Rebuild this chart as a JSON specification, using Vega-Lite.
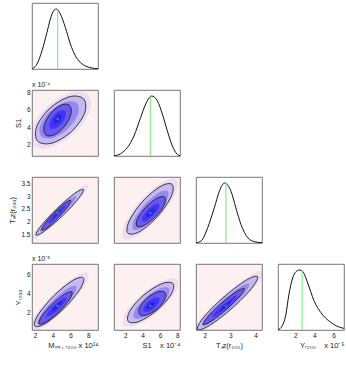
{
"$schema":"https://vega.github.io/schema/vega-lite/v6.json",
"padding":{"left":8,"top":2,"right":2,"bottom":2},
"background":"white",
"columns":4,
"spacing":{"row":21,"column":16},
"bounds":"flush",
"datasets":{
"ell":[
{"p":"A","l":1,"o":0,"x":8.00,"y":7.75},{"p":"A","l":1,"o":1,"x":8.11,"y":5.75},{"p":"A","l":1,"o":2,"x":6.32,"y":3.22},{"p":"A","l":1,"o":3,"x":3.69,"y":1.65},{"p":"A","l":1,"o":4,"x":1.76,"y":1.95},{"p":"A","l":1,"o":5,"x":1.65,"y":3.95},{"p":"A","l":1,"o":6,"x":3.44,"y":6.48},{"p":"A","l":1,"o":7,"x":6.07,"y":8.05},
{"p":"A","l":2,"o":0,"x":7.48,"y":7.27},{"p":"A","l":2,"o":1,"x":7.57,"y":5.60},{"p":"A","l":2,"o":2,"x":6.08,"y":3.49},{"p":"A","l":2,"o":3,"x":3.89,"y":2.18},{"p":"A","l":2,"o":4,"x":2.28,"y":2.43},{"p":"A","l":2,"o":5,"x":2.19,"y":4.10},{"p":"A","l":2,"o":6,"x":3.68,"y":6.21},{"p":"A","l":2,"o":7,"x":5.87,"y":7.52},
{"p":"A","l":3,"o":0,"x":6.74,"y":6.74},{"p":"A","l":3,"o":1,"x":6.81,"y":5.44},{"p":"A","l":3,"o":2,"x":5.65,"y":3.79},{"p":"A","l":3,"o":3,"x":3.94,"y":2.77},{"p":"A","l":3,"o":4,"x":2.68,"y":2.96},{"p":"A","l":3,"o":5,"x":2.61,"y":4.26},{"p":"A","l":3,"o":6,"x":3.77,"y":5.91},{"p":"A","l":3,"o":7,"x":5.48,"y":6.93},
{"p":"A","l":4,"o":0,"x":5.84,"y":6.57},{"p":"A","l":4,"o":1,"x":6.06,"y":5.59},{"p":"A","l":4,"o":2,"x":5.38,"y":4.17},{"p":"A","l":4,"o":3,"x":4.20,"y":3.15},{"p":"A","l":4,"o":4,"x":3.22,"y":3.11},{"p":"A","l":4,"o":5,"x":3.00,"y":4.09},{"p":"A","l":4,"o":6,"x":3.68,"y":5.51},{"p":"A","l":4,"o":7,"x":4.86,"y":6.53},
{"p":"A","l":5,"o":0,"x":5.34,"y":5.94},{"p":"A","l":5,"o":1,"x":5.47,"y":5.35},{"p":"A","l":5,"o":2,"x":5.06,"y":4.50},{"p":"A","l":5,"o":3,"x":4.35,"y":3.89},{"p":"A","l":5,"o":4,"x":3.76,"y":3.86},{"p":"A","l":5,"o":5,"x":3.63,"y":4.45},{"p":"A","l":5,"o":6,"x":4.04,"y":5.30},{"p":"A","l":5,"o":7,"x":4.75,"y":5.91},
{"p":"A","l":6,"o":0,"x":4.94,"y":5.47},{"p":"A","l":6,"o":1,"x":5.01,"y":5.18},{"p":"A","l":6,"o":2,"x":4.81,"y":4.75},{"p":"A","l":6,"o":3,"x":4.45,"y":4.44},{"p":"A","l":6,"o":4,"x":4.16,"y":4.43},{"p":"A","l":6,"o":5,"x":4.09,"y":4.72},{"p":"A","l":6,"o":6,"x":4.29,"y":5.15},{"p":"A","l":6,"o":7,"x":4.65,"y":5.46},
{"p":"B","l":1,"o":0,"x":7.98,"y":3.44},{"p":"B","l":1,"o":1,"x":7.35,"y":3.02},{"p":"B","l":1,"o":2,"x":5.20,"y":2.21},{"p":"B","l":1,"o":3,"x":2.81,"y":1.49},{"p":"B","l":1,"o":4,"x":1.58,"y":1.28},{"p":"B","l":1,"o":5,"x":2.21,"y":1.70},{"p":"B","l":1,"o":6,"x":4.36,"y":2.51},{"p":"B","l":1,"o":7,"x":6.75,"y":3.23},
{"p":"B","l":2,"o":0,"x":7.45,"y":3.26},{"p":"B","l":2,"o":1,"x":6.92,"y":2.91},{"p":"B","l":2,"o":2,"x":5.13,"y":2.23},{"p":"B","l":2,"o":3,"x":3.14,"y":1.64},{"p":"B","l":2,"o":4,"x":2.11,"y":1.46},{"p":"B","l":2,"o":5,"x":2.64,"y":1.81},{"p":"B","l":2,"o":6,"x":4.43,"y":2.49},{"p":"B","l":2,"o":7,"x":6.42,"y":3.09},
{"p":"B","l":3,"o":0,"x":6.66,"y":3.00},{"p":"B","l":3,"o":1,"x":6.25,"y":2.73},{"p":"B","l":3,"o":2,"x":4.85,"y":2.20},{"p":"B","l":3,"o":3,"x":3.30,"y":1.73},{"p":"B","l":3,"o":4,"x":2.50,"y":1.60},{"p":"B","l":3,"o":5,"x":2.91,"y":1.87},{"p":"B","l":3,"o":6,"x":4.31,"y":2.40},{"p":"B","l":3,"o":7,"x":5.86,"y":2.87},
{"p":"B","l":4,"o":0,"x":6.02,"y":2.83},{"p":"B","l":4,"o":1,"x":5.71,"y":2.60},{"p":"B","l":4,"o":2,"x":4.62,"y":2.15},{"p":"B","l":4,"o":3,"x":3.39,"y":1.76},{"p":"B","l":4,"o":4,"x":2.74,"y":1.65},{"p":"B","l":4,"o":5,"x":3.05,"y":1.88},{"p":"B","l":4,"o":6,"x":4.14,"y":2.33},{"p":"B","l":4,"o":7,"x":5.37,"y":2.72},
{"p":"B","l":5,"o":0,"x":5.45,"y":2.63},{"p":"B","l":5,"o":1,"x":5.27,"y":2.49},{"p":"B","l":5,"o":2,"x":4.61,"y":2.23},{"p":"B","l":5,"o":3,"x":3.88,"y":1.99},{"p":"B","l":5,"o":4,"x":3.49,"y":1.93},{"p":"B","l":5,"o":5,"x":3.67,"y":2.07},{"p":"B","l":5,"o":6,"x":4.33,"y":2.33},{"p":"B","l":5,"o":7,"x":5.06,"y":2.57},
{"p":"B","l":6,"o":0,"x":4.99,"y":2.48},{"p":"B","l":6,"o":1,"x":4.90,"y":2.41},{"p":"B","l":6,"o":2,"x":4.57,"y":2.27},{"p":"B","l":6,"o":3,"x":4.20,"y":2.16},{"p":"B","l":6,"o":4,"x":4.01,"y":2.12},{"p":"B","l":6,"o":5,"x":4.10,"y":2.19},{"p":"B","l":6,"o":6,"x":4.43,"y":2.33},{"p":"B","l":6,"o":7,"x":4.80,"y":2.44},
{"p":"C","l":1,"o":0,"x":7.98,"y":6.17},{"p":"C","l":1,"o":1,"x":7.56,"y":4.77},{"p":"C","l":1,"o":2,"x":5.47,"y":2.42},{"p":"C","l":1,"o":3,"x":2.93,"y":0.48},{"p":"C","l":1,"o":4,"x":1.42,"y":0.09},{"p":"C","l":1,"o":5,"x":1.84,"y":1.49},{"p":"C","l":1,"o":6,"x":3.93,"y":3.85},{"p":"C","l":1,"o":7,"x":6.47,"y":5.78},
{"p":"C","l":2,"o":0,"x":7.43,"y":5.66},{"p":"C","l":2,"o":1,"x":7.09,"y":4.50},{"p":"C","l":2,"o":2,"x":5.34,"y":2.53},{"p":"C","l":2,"o":3,"x":3.23,"y":0.92},{"p":"C","l":2,"o":4,"x":1.97,"y":0.60},{"p":"C","l":2,"o":5,"x":2.32,"y":1.76},{"p":"C","l":2,"o":6,"x":4.06,"y":3.73},{"p":"C","l":2,"o":7,"x":6.18,"y":5.34},
{"p":"C","l":3,"o":0,"x":6.63,"y":4.79},{"p":"C","l":3,"o":1,"x":6.36,"y":3.88},{"p":"C","l":3,"o":2,"x":5.00,"y":2.35},{"p":"C","l":3,"o":3,"x":3.35,"y":1.09},{"p":"C","l":3,"o":4,"x":2.37,"y":0.84},{"p":"C","l":3,"o":5,"x":2.64,"y":1.75},{"p":"C","l":3,"o":6,"x":4.00,"y":3.28},{"p":"C","l":3,"o":7,"x":5.65,"y":4.54},
{"p":"C","l":4,"o":0,"x":6.16,"y":4.17},{"p":"C","l":4,"o":1,"x":5.89,"y":3.42},{"p":"C","l":4,"o":2,"x":4.70,"y":2.12},{"p":"C","l":4,"o":3,"x":3.26,"y":1.05},{"p":"C","l":4,"o":4,"x":2.44,"y":0.83},{"p":"C","l":4,"o":5,"x":2.71,"y":1.59},{"p":"C","l":4,"o":6,"x":3.91,"y":2.88},{"p":"C","l":4,"o":7,"x":5.34,"y":3.95},
{"p":"C","l":5,"o":0,"x":5.54,"y":3.60},{"p":"C","l":5,"o":1,"x":5.38,"y":3.15},{"p":"C","l":5,"o":2,"x":4.66,"y":2.37},{"p":"C","l":5,"o":3,"x":3.80,"y":1.73},{"p":"C","l":5,"o":4,"x":3.30,"y":1.60},{"p":"C","l":5,"o":5,"x":3.46,"y":2.05},{"p":"C","l":5,"o":6,"x":4.18,"y":2.83},{"p":"C","l":5,"o":7,"x":5.04,"y":3.47},
{"p":"C","l":6,"o":0,"x":5.06,"y":3.20},{"p":"C","l":6,"o":1,"x":4.98,"y":2.98},{"p":"C","l":6,"o":2,"x":4.62,"y":2.59},{"p":"C","l":6,"o":3,"x":4.19,"y":2.27},{"p":"C","l":6,"o":4,"x":3.94,"y":2.20},{"p":"C","l":6,"o":5,"x":4.02,"y":2.43},{"p":"C","l":6,"o":6,"x":4.38,"y":2.81},{"p":"C","l":6,"o":7,"x":4.81,"y":3.13},
{"p":"D","l":1,"o":0,"x":7.89,"y":3.65},{"p":"D","l":1,"o":1,"x":7.76,"y":3.07},{"p":"D","l":1,"o":2,"x":5.93,"y":2.16},{"p":"D","l":1,"o":3,"x":3.47,"y":1.44},{"p":"D","l":1,"o":4,"x":1.81,"y":1.33},{"p":"D","l":1,"o":5,"x":1.94,"y":1.91},{"p":"D","l":1,"o":6,"x":3.77,"y":2.82},{"p":"D","l":1,"o":7,"x":6.23,"y":3.54},
{"p":"D","l":2,"o":0,"x":7.38,"y":3.46},{"p":"D","l":2,"o":1,"x":7.28,"y":2.98},{"p":"D","l":2,"o":2,"x":5.75,"y":2.21},{"p":"D","l":2,"o":3,"x":3.70,"y":1.61},{"p":"D","l":2,"o":4,"x":2.32,"y":1.53},{"p":"D","l":2,"o":5,"x":2.43,"y":2.00},{"p":"D","l":2,"o":6,"x":3.95,"y":2.77},{"p":"D","l":2,"o":7,"x":6.00,"y":3.37},
{"p":"D","l":3,"o":0,"x":6.87,"y":3.19},{"p":"D","l":3,"o":1,"x":6.79,"y":2.82},{"p":"D","l":3,"o":2,"x":5.60,"y":2.22},{"p":"D","l":3,"o":3,"x":4.00,"y":1.75},{"p":"D","l":3,"o":4,"x":2.93,"y":1.68},{"p":"D","l":3,"o":5,"x":3.01,"y":2.06},{"p":"D","l":3,"o":6,"x":4.20,"y":2.65},{"p":"D","l":3,"o":7,"x":5.80,"y":3.12},
{"p":"D","l":4,"o":0,"x":6.56,"y":2.95},{"p":"D","l":4,"o":1,"x":6.49,"y":2.65},{"p":"D","l":4,"o":2,"x":5.52,"y":2.20},{"p":"D","l":4,"o":3,"x":4.21,"y":1.85},{"p":"D","l":4,"o":4,"x":3.34,"y":1.81},{"p":"D","l":4,"o":5,"x":3.41,"y":2.11},{"p":"D","l":4,"o":6,"x":4.39,"y":2.57},{"p":"D","l":4,"o":7,"x":5.69,"y":2.92},
{"p":"D","l":5,"o":0,"x":5.89,"y":2.69},{"p":"D","l":5,"o":1,"x":5.84,"y":2.51},{"p":"D","l":5,"o":2,"x":5.26,"y":2.24},{"p":"D","l":5,"o":3,"x":4.48,"y":2.03},{"p":"D","l":5,"o":4,"x":3.95,"y":2.01},{"p":"D","l":5,"o":5,"x":4.00,"y":2.19},{"p":"D","l":5,"o":6,"x":4.58,"y":2.46},{"p":"D","l":5,"o":7,"x":5.36,"y":2.67},
{"p":"D","l":6,"o":0,"x":5.38,"y":2.51},{"p":"D","l":6,"o":1,"x":5.36,"y":2.42},{"p":"D","l":6,"o":2,"x":5.07,"y":2.28},{"p":"D","l":6,"o":3,"x":4.68,"y":2.18},{"p":"D","l":6,"o":4,"x":4.42,"y":2.17},{"p":"D","l":6,"o":5,"x":4.44,"y":2.26},{"p":"D","l":6,"o":6,"x":4.73,"y":2.40},{"p":"D","l":6,"o":7,"x":5.12,"y":2.50},
{"p":"E","l":1,"o":0,"x":7.99,"y":5.44},{"p":"E","l":1,"o":1,"x":7.73,"y":4.06},{"p":"E","l":1,"o":2,"x":5.81,"y":2.10},{"p":"E","l":1,"o":3,"x":3.37,"y":0.71},{"p":"E","l":1,"o":4,"x":1.83,"y":0.70},{"p":"E","l":1,"o":5,"x":2.09,"y":2.08},{"p":"E","l":1,"o":6,"x":4.01,"y":4.04},{"p":"E","l":1,"o":7,"x":6.45,"y":5.43},
{"p":"E","l":2,"o":0,"x":7.48,"y":5.05},{"p":"E","l":2,"o":1,"x":7.26,"y":3.90},{"p":"E","l":2,"o":2,"x":5.66,"y":2.27},{"p":"E","l":2,"o":3,"x":3.62,"y":1.10},{"p":"E","l":2,"o":4,"x":2.34,"y":1.10},{"p":"E","l":2,"o":5,"x":2.56,"y":2.24},{"p":"E","l":2,"o":6,"x":4.16,"y":3.88},{"p":"E","l":2,"o":7,"x":6.20,"y":5.04},
{"p":"E","l":3,"o":0,"x":7.02,"y":4.57},{"p":"E","l":3,"o":1,"x":6.84,"y":3.67},{"p":"E","l":3,"o":2,"x":5.59,"y":2.40},{"p":"E","l":3,"o":3,"x":4.01,"y":1.49},{"p":"E","l":3,"o":4,"x":3.00,"y":1.48},{"p":"E","l":3,"o":5,"x":3.18,"y":2.38},{"p":"E","l":3,"o":6,"x":4.43,"y":3.65},{"p":"E","l":3,"o":7,"x":6.01,"y":4.56},
{"p":"E","l":4,"o":0,"x":6.57,"y":4.11},{"p":"E","l":4,"o":1,"x":6.54,"y":3.36},{"p":"E","l":4,"o":2,"x":5.66,"y":2.40},{"p":"E","l":4,"o":3,"x":4.47,"y":1.77},{"p":"E","l":4,"o":4,"x":3.65,"y":1.85},{"p":"E","l":4,"o":5,"x":3.69,"y":2.60},{"p":"E","l":4,"o":6,"x":4.56,"y":3.57},{"p":"E","l":4,"o":7,"x":5.75,"y":4.19},
{"p":"E","l":5,"o":0,"x":5.88,"y":3.53},{"p":"E","l":5,"o":1,"x":5.86,"y":3.08},{"p":"E","l":5,"o":2,"x":5.33,"y":2.50},{"p":"E","l":5,"o":3,"x":4.61,"y":2.12},{"p":"E","l":5,"o":4,"x":4.12,"y":2.17},{"p":"E","l":5,"o":5,"x":4.15,"y":2.62},{"p":"E","l":5,"o":6,"x":4.67,"y":3.20},{"p":"E","l":5,"o":7,"x":5.39,"y":3.58},
{"p":"E","l":6,"o":0,"x":5.36,"y":3.10},{"p":"E","l":6,"o":1,"x":5.35,"y":2.88},{"p":"E","l":6,"o":2,"x":5.09,"y":2.58},{"p":"E","l":6,"o":3,"x":4.73,"y":2.40},{"p":"E","l":6,"o":4,"x":4.48,"y":2.42},{"p":"E","l":6,"o":5,"x":4.49,"y":2.65},{"p":"E","l":6,"o":6,"x":4.75,"y":2.94},{"p":"E","l":6,"o":7,"x":5.11,"y":3.12},
{"p":"F","l":1,"o":0,"x":3.81,"y":6.34},{"p":"F","l":1,"o":1,"x":3.54,"y":4.91},{"p":"F","l":1,"o":2,"x":2.61,"y":2.37},{"p":"F","l":1,"o":3,"x":1.54,"y":0.21},{"p":"F","l":1,"o":4,"x":0.97,"y":-0.30},{"p":"F","l":1,"o":5,"x":1.24,"y":1.13},{"p":"F","l":1,"o":6,"x":2.17,"y":3.67},{"p":"F","l":1,"o":7,"x":3.24,"y":5.83},
{"p":"F","l":2,"o":0,"x":3.57,"y":5.79},{"p":"F","l":2,"o":1,"x":3.35,"y":4.60},{"p":"F","l":2,"o":2,"x":2.57,"y":2.48},{"p":"F","l":2,"o":3,"x":1.68,"y":0.68},{"p":"F","l":2,"o":4,"x":1.21,"y":0.25},{"p":"F","l":2,"o":5,"x":1.43,"y":1.45},{"p":"F","l":2,"o":6,"x":2.21,"y":3.56},{"p":"F","l":2,"o":7,"x":3.10,"y":5.36},
{"p":"F","l":3,"o":0,"x":3.24,"y":5.00},{"p":"F","l":3,"o":1,"x":3.07,"y":4.06},{"p":"F","l":3,"o":2,"x":2.46,"y":2.41},{"p":"F","l":3,"o":3,"x":1.76,"y":1.01},{"p":"F","l":3,"o":4,"x":1.40,"y":0.68},{"p":"F","l":3,"o":5,"x":1.57,"y":1.61},{"p":"F","l":3,"o":6,"x":2.17,"y":3.26},{"p":"F","l":3,"o":7,"x":2.87,"y":4.66},
{"p":"F","l":4,"o":0,"x":3.05,"y":4.53},{"p":"F","l":4,"o":1,"x":2.88,"y":3.76},{"p":"F","l":4,"o":2,"x":2.34,"y":2.34},{"p":"F","l":4,"o":3,"x":1.74,"y":1.10},{"p":"F","l":4,"o":4,"x":1.43,"y":0.77},{"p":"F","l":4,"o":5,"x":1.60,"y":1.54},{"p":"F","l":4,"o":6,"x":2.14,"y":2.96},{"p":"F","l":4,"o":7,"x":2.74,"y":4.20},
{"p":"F","l":5,"o":0,"x":2.76,"y":3.81},{"p":"F","l":5,"o":1,"x":2.67,"y":3.35},{"p":"F","l":5,"o":2,"x":2.34,"y":2.49},{"p":"F","l":5,"o":3,"x":1.98,"y":1.75},{"p":"F","l":5,"o":4,"x":1.80,"y":1.55},{"p":"F","l":5,"o":5,"x":1.89,"y":2.02},{"p":"F","l":5,"o":6,"x":2.22,"y":2.87},{"p":"F","l":5,"o":7,"x":2.58,"y":3.61},
{"p":"F","l":6,"o":0,"x":2.55,"y":3.26},{"p":"F","l":6,"o":1,"x":2.50,"y":3.03},{"p":"F","l":6,"o":2,"x":2.34,"y":2.61},{"p":"F","l":6,"o":3,"x":2.16,"y":2.24},{"p":"F","l":6,"o":4,"x":2.07,"y":2.14},{"p":"F","l":6,"o":5,"x":2.12,"y":2.37},{"p":"F","l":6,"o":6,"x":2.28,"y":2.79},{"p":"F","l":6,"o":7,"x":2.46,"y":3.17}
],
"dots":[
{"p":"A","x":4.55,"y":4.95},{"p":"B","x":4.55,"y":2.33},{"p":"C","x":4.55,"y":2.72},{"p":"D","x":4.88,"y":2.33},{"p":"E","x":4.88,"y":2.72},{"p":"F","x":2.33,"y":2.72}
],
"pdf":[
{"p":"M","x":1.65,"y":0},{"p":"M","x":2.0,"y":0.04},{"p":"M","x":2.21,"y":0.083},{"p":"M","x":2.78,"y":0.306},{"p":"M","x":3.34,"y":0.611},{"p":"M","x":3.72,"y":0.833},{"p":"M","x":4.10,"y":0.972},{"p":"M","x":4.40,"y":1.0},{"p":"M","x":4.85,"y":0.917},{"p":"M","x":5.41,"y":0.694},{"p":"M","x":5.98,"y":0.417},{"p":"M","x":6.54,"y":0.222},{"p":"M","x":7.11,"y":0.111},{"p":"M","x":7.86,"y":0.039},{"p":"M","x":8.99,"y":0.006},{"p":"M","x":9.1,"y":0.005},
{"p":"S","x":0.7,"y":0.004},{"p":"S","x":1.47,"y":0.039},{"p":"S","x":2.24,"y":0.14},{"p":"S","x":3.00,"y":0.335},{"p":"S","x":3.77,"y":0.642},{"p":"S","x":4.35,"y":0.866},{"p":"S","x":4.92,"y":0.995},{"p":"S","x":5.05,"y":1.0},{"p":"S","x":5.69,"y":0.92},{"p":"S","x":6.27,"y":0.698},{"p":"S","x":6.84,"y":0.419},{"p":"S","x":7.42,"y":0.168},{"p":"S","x":7.99,"y":0.028},{"p":"S","x":8.3,"y":0.006},
{"p":"T","x":1.15,"y":0.004},{"p":"T","x":1.35,"y":0.033},{"p":"T","x":1.61,"y":0.254},{"p":"T","x":1.87,"y":0.586},{"p":"T","x":2.07,"y":0.862},{"p":"T","x":2.18,"y":0.965},{"p":"T","x":2.29,"y":1.0},{"p":"T","x":2.40,"y":0.965},{"p":"T","x":2.53,"y":0.862},{"p":"T","x":2.72,"y":0.586},{"p":"T","x":2.92,"y":0.31},{"p":"T","x":3.19,"y":0.088},{"p":"T","x":3.45,"y":0.022},{"p":"T","x":3.75,"y":0.005},
{"p":"Y","x":0.2,"y":0.003},{"p":"Y","x":0.65,"y":0.072},{"p":"Y","x":1.00,"y":0.239},{"p":"Y","x":1.35,"y":0.6},{"p":"Y","x":1.70,"y":0.85},{"p":"Y","x":2.22,"y":0.989},{"p":"Y","x":2.50,"y":1.0},{"p":"Y","x":2.85,"y":0.961},{"p":"Y","x":3.34,"y":0.767},{"p":"Y","x":3.96,"y":0.489},{"p":"Y","x":4.66,"y":0.294},{"p":"Y","x":5.71,"y":0.128},{"p":"Y","x":6.93,"y":0.033},{"p":"Y","x":7.1,"y":0.028}
],
"mlines":[
{"p":"M","x":4.55,"y":0.97},{"p":"S","x":4.88,"y":0.99},{"p":"T","x":2.33,"y":0.995},{"p":"Y","x":2.72,"y":0.975}
]
},
"concat":[
{"width":66,"height":66,
 "encoding":{"x":{"field":"x","type":"quantitative","scale":{"domain":[1.65,9.1],"nice":false,"zero":false},"axis":null},
             "y":{"field":"y","type":"quantitative","scale":{"domain":[0,1.1],"nice":false,"zero":false},"axis":null}},
 "layer":[
  {"data":{"name":"pdf"},"transform":[{"filter":"datum.p=='M'"}],"mark":{"type":"line","interpolate":"monotone","color":"#111111","strokeWidth":1,"clip":true},"encoding":{"order":{"field":"x","type":"quantitative"}}},
  {"data":{"name":"mlines"},"transform":[{"filter":"datum.p=='M'"}],"mark":{"type":"rule","color":"#74e874","strokeWidth":1},"encoding":{"y":{"datum":0},"y2":{"field":"y"}}}
 ]},
{"width":66,"height":66,"view":{"stroke":null},"data":{"values":[{}]},"mark":{"type":"point","opacity":0}},
{"width":66,"height":66,"view":{"stroke":null},"data":{"values":[{}]},"mark":{"type":"point","opacity":0}},
{"width":66,"height":66,"view":{"stroke":null},"data":{"values":[{}]},"mark":{"type":"point","opacity":0}},

{"width":66,"height":66,"view":{"fill":"#fdf0f0"},
 "title":{"text":"x 10⁻⁴","anchor":"start","frame":"group","offset":2},
 "encoding":{"x":{"field":"x","type":"quantitative","scale":{"domain":[1.65,9.1],"nice":false,"zero":false},"axis":null},
             "y":{"field":"y","type":"quantitative","scale":{"domain":[0.7,8.3],"nice":false,"zero":false},"axis":{"values":[2,4,6,8],"format":"~g","title":"S1"}}},
 "layer":[
  {"data":{"name":"ell"},"transform":[{"filter":"datum.p=='A'"}],"mark":{"type":"line","interpolate":"cardinal-closed","fill":"#2010f5","strokeWidth":0,"clip":true},
   "encoding":{"order":{"field":"o","type":"quantitative"},"detail":{"field":"l"},"fillOpacity":{"field":"l","type":"quantitative","scale":{"domain":[1,6],"range":[0.08,0.6]},"legend":null}}},
  {"data":{"name":"ell"},"transform":[{"filter":"datum.p=='A' && (datum.l==2 || datum.l==4)"}],"mark":{"type":"line","interpolate":"cardinal-closed","color":"#222222","strokeWidth":0.9,"clip":true},
   "encoding":{"order":{"field":"o","type":"quantitative"},"detail":{"field":"l"}}},
  {"data":{"name":"dots"},"transform":[{"filter":"datum.p=='A'"}],"mark":{"type":"point","filled":true,"color":"#1fa35a","size":6,"opacity":1}}
 ]},
{"width":66,"height":66,
 "encoding":{"x":{"field":"x","type":"quantitative","scale":{"domain":[0.7,8.3],"nice":false,"zero":false},"axis":null},
             "y":{"field":"y","type":"quantitative","scale":{"domain":[0,1.1],"nice":false,"zero":false},"axis":null}},
 "layer":[
  {"data":{"name":"pdf"},"transform":[{"filter":"datum.p=='S'"}],"mark":{"type":"line","interpolate":"monotone","color":"#111111","strokeWidth":1,"clip":true},"encoding":{"order":{"field":"x","type":"quantitative"}}},
  {"data":{"name":"mlines"},"transform":[{"filter":"datum.p=='S'"}],"mark":{"type":"rule","color":"#74e874","strokeWidth":1},"encoding":{"y":{"datum":0},"y2":{"field":"y"}}}
 ]},
{"width":66,"height":66,"view":{"stroke":null},"data":{"values":[{}]},"mark":{"type":"point","opacity":0}},
{"width":66,"height":66,"view":{"stroke":null},"data":{"values":[{}]},"mark":{"type":"point","opacity":0}},

{"width":66,"height":66,"view":{"fill":"#fdf0f0"},
 "encoding":{"x":{"field":"x","type":"quantitative","scale":{"domain":[1.65,9.1],"nice":false,"zero":false},"axis":null},
             "y":{"field":"y","type":"quantitative","scale":{"domain":[1.15,3.75],"nice":false,"zero":false},"axis":{"values":[1.5,2,2.5,3,3.5],"format":"~g","title":"Tₛᴢ(r₂₀₀)"}}},
 "layer":[
  {"data":{"name":"ell"},"transform":[{"filter":"datum.p=='B'"}],"mark":{"type":"line","interpolate":"cardinal-closed","fill":"#2010f5","strokeWidth":0,"clip":true},
   "encoding":{"order":{"field":"o","type":"quantitative"},"detail":{"field":"l"},"fillOpacity":{"field":"l","type":"quantitative","scale":{"domain":[1,6],"range":[0.08,0.6]},"legend":null}}},
  {"data":{"name":"ell"},"transform":[{"filter":"datum.p=='B' && (datum.l==2 || datum.l==4)"}],"mark":{"type":"line","interpolate":"cardinal-closed","color":"#222222","strokeWidth":0.9,"clip":true},
   "encoding":{"order":{"field":"o","type":"quantitative"},"detail":{"field":"l"}}},
  {"data":{"name":"dots"},"transform":[{"filter":"datum.p=='B'"}],"mark":{"type":"point","filled":true,"color":"#1fa35a","size":6,"opacity":1}}
 ]},
{"width":66,"height":66,"view":{"fill":"#fdf0f0"},
 "encoding":{"x":{"field":"x","type":"quantitative","scale":{"domain":[0.7,8.3],"nice":false,"zero":false},"axis":null},
             "y":{"field":"y","type":"quantitative","scale":{"domain":[1.15,3.75],"nice":false,"zero":false},"axis":null}},
 "layer":[
  {"data":{"name":"ell"},"transform":[{"filter":"datum.p=='D'"}],"mark":{"type":"line","interpolate":"cardinal-closed","fill":"#2010f5","strokeWidth":0,"clip":true},
   "encoding":{"order":{"field":"o","type":"quantitative"},"detail":{"field":"l"},"fillOpacity":{"field":"l","type":"quantitative","scale":{"domain":[1,6],"range":[0.08,0.6]},"legend":null}}},
  {"data":{"name":"ell"},"transform":[{"filter":"datum.p=='D' && (datum.l==2 || datum.l==4)"}],"mark":{"type":"line","interpolate":"cardinal-closed","color":"#222222","strokeWidth":0.9,"clip":true},
   "encoding":{"order":{"field":"o","type":"quantitative"},"detail":{"field":"l"}}},
  {"data":{"name":"dots"},"transform":[{"filter":"datum.p=='D'"}],"mark":{"type":"point","filled":true,"color":"#1fa35a","size":6,"opacity":1}}
 ]},
{"width":66,"height":66,
 "encoding":{"x":{"field":"x","type":"quantitative","scale":{"domain":[1.15,3.75],"nice":false,"zero":false},"axis":null},
             "y":{"field":"y","type":"quantitative","scale":{"domain":[0,1.1],"nice":false,"zero":false},"axis":null}},
 "layer":[
  {"data":{"name":"pdf"},"transform":[{"filter":"datum.p=='T'"}],"mark":{"type":"line","interpolate":"monotone","color":"#111111","strokeWidth":1,"clip":true},"encoding":{"order":{"field":"x","type":"quantitative"}}},
  {"data":{"name":"mlines"},"transform":[{"filter":"datum.p=='T'"}],"mark":{"type":"rule","color":"#74e874","strokeWidth":1},"encoding":{"y":{"datum":0},"y2":{"field":"y"}}}
 ]},
{"width":66,"height":66,"view":{"stroke":null},"data":{"values":[{}]},"mark":{"type":"point","opacity":0}},

{"width":66,"height":66,"view":{"fill":"#fdf0f0"},
 "title":{"text":"x 10⁻⁵","anchor":"start","frame":"group","offset":2},
 "encoding":{"x":{"field":"x","type":"quantitative","scale":{"domain":[1.65,9.1],"nice":false,"zero":false},"axis":{"values":[2,4,6,8],"format":"~g","title":"Mₜₒₜ, ᵣ₂₀₀ x 10¹⁴","titleAnchor":"end"}},
             "y":{"field":"y","type":"quantitative","scale":{"domain":[0.2,7.1],"nice":false,"zero":false},"axis":{"values":[2,4,6],"format":"~g","title":"Yᵣ₂₀₀"}}},
 "layer":[
  {"data":{"name":"ell"},"transform":[{"filter":"datum.p=='C'"}],"mark":{"type":"line","interpolate":"cardinal-closed","fill":"#2010f5","strokeWidth":0,"clip":true},
   "encoding":{"order":{"field":"o","type":"quantitative"},"detail":{"field":"l"},"fillOpacity":{"field":"l","type":"quantitative","scale":{"domain":[1,6],"range":[0.08,0.6]},"legend":null}}},
  {"data":{"name":"ell"},"transform":[{"filter":"datum.p=='C' && (datum.l==2 || datum.l==4)"}],"mark":{"type":"line","interpolate":"cardinal-closed","color":"#222222","strokeWidth":0.9,"clip":true},
   "encoding":{"order":{"field":"o","type":"quantitative"},"detail":{"field":"l"}}},
  {"data":{"name":"dots"},"transform":[{"filter":"datum.p=='C'"}],"mark":{"type":"point","filled":true,"color":"#1fa35a","size":6,"opacity":1}}
 ]},
{"width":66,"height":66,"view":{"fill":"#fdf0f0"},
 "encoding":{"x":{"field":"x","type":"quantitative","scale":{"domain":[0.7,8.3],"nice":false,"zero":false},"axis":{"values":[2,4,6,8],"format":"~g","title":"S1\u00a0\u00a0\u00a0\u00a0x 10⁻⁴","titleAnchor":"end"}},
             "y":{"field":"y","type":"quantitative","scale":{"domain":[0.2,7.1],"nice":false,"zero":false},"axis":null}},
 "layer":[
  {"data":{"name":"ell"},"transform":[{"filter":"datum.p=='E'"}],"mark":{"type":"line","interpolate":"cardinal-closed","fill":"#2010f5","strokeWidth":0,"clip":true},
   "encoding":{"order":{"field":"o","type":"quantitative"},"detail":{"field":"l"},"fillOpacity":{"field":"l","type":"quantitative","scale":{"domain":[1,6],"range":[0.08,0.6]},"legend":null}}},
  {"data":{"name":"ell"},"transform":[{"filter":"datum.p=='E' && (datum.l==2 || datum.l==4)"}],"mark":{"type":"line","interpolate":"cardinal-closed","color":"#222222","strokeWidth":0.9,"clip":true},
   "encoding":{"order":{"field":"o","type":"quantitative"},"detail":{"field":"l"}}},
  {"data":{"name":"dots"},"transform":[{"filter":"datum.p=='E'"}],"mark":{"type":"point","filled":true,"color":"#1fa35a","size":6,"opacity":1}}
 ]},
{"width":66,"height":66,"view":{"fill":"#fdf0f0"},
 "encoding":{"x":{"field":"x","type":"quantitative","scale":{"domain":[1.15,3.75],"nice":false,"zero":false},"axis":{"values":[1.5,2.5,3.5],"format":"~g","title":"Tₛᴢ(r₂₀₀)"}},
             "y":{"field":"y","type":"quantitative","scale":{"domain":[0.2,7.1],"nice":false,"zero":false},"axis":null}},
 "layer":[
  {"data":{"name":"ell"},"transform":[{"filter":"datum.p=='F'"}],"mark":{"type":"line","interpolate":"cardinal-closed","fill":"#2010f5","strokeWidth":0,"clip":true},
   "encoding":{"order":{"field":"o","type":"quantitative"},"detail":{"field":"l"},"fillOpacity":{"field":"l","type":"quantitative","scale":{"domain":[1,6],"range":[0.08,0.6]},"legend":null}}},
  {"data":{"name":"ell"},"transform":[{"filter":"datum.p=='F' && (datum.l==2 || datum.l==4)"}],"mark":{"type":"line","interpolate":"cardinal-closed","color":"#222222","strokeWidth":0.9,"clip":true},
   "encoding":{"order":{"field":"o","type":"quantitative"},"detail":{"field":"l"}}},
  {"data":{"name":"dots"},"transform":[{"filter":"datum.p=='F'"}],"mark":{"type":"point","filled":true,"color":"#1fa35a","size":6,"opacity":1}}
 ]},
{"width":66,"height":66,
 "encoding":{"x":{"field":"x","type":"quantitative","scale":{"domain":[0.2,7.1],"nice":false,"zero":false},"axis":{"values":[2,4,6],"format":"~g","title":"Yᵣ₂₀₀\u00a0\u00a0\u00a0\u00a0x 10⁻⁵\u00a0\u00a0","titleAnchor":"end"}},
             "y":{"field":"y","type":"quantitative","scale":{"domain":[0,1.1],"nice":false,"zero":false},"axis":null}},
 "layer":[
  {"data":{"name":"pdf"},"transform":[{"filter":"datum.p=='Y'"}],"mark":{"type":"line","interpolate":"monotone","color":"#111111","strokeWidth":1,"clip":true},"encoding":{"order":{"field":"x","type":"quantitative"}}},
  {"data":{"name":"mlines"},"transform":[{"filter":"datum.p=='Y'"}],"mark":{"type":"rule","color":"#74e874","strokeWidth":1},"encoding":{"y":{"datum":0},"y2":{"field":"y"}}}
 ]}
],
"config":{
 "font":"Liberation Sans",
 "view":{"stroke":"#555555","strokeWidth":0.8},
 "axis":{"grid":false,"domain":false,"ticks":false,"labelFontSize":6.5,"titleFontSize":7.5,"labelColor":"#1a1a1a","titleColor":"#1a1a1a","titleFontWeight":"normal","labelPadding":2,"titlePadding":3,"labelFont":"Liberation Sans","titleFont":"Liberation Sans"},
 "axisY":{"titlePadding":4},
 "title":{"fontSize":7,"fontWeight":"normal","color":"#1a1a1a","font":"Liberation Sans"}
}
}
